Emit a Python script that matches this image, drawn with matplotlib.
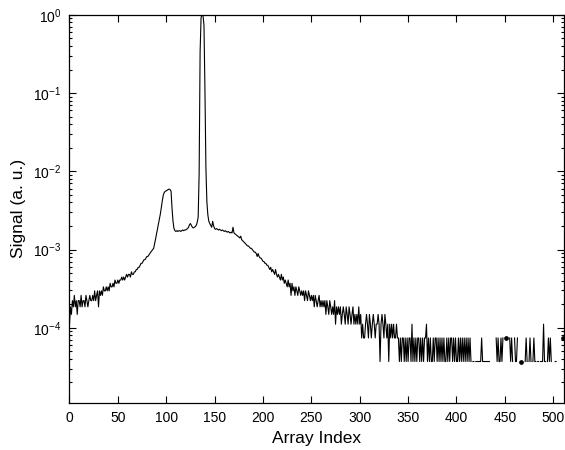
import numpy as np
import matplotlib
matplotlib.use("Agg")
import matplotlib.pyplot as plt
from matplotlib.ticker import FixedLocator, NullFormatter

# Detector counts per array element (1 count ~ 3.7e-5 after normalisation)
counts = [
    3, 5, 4, 6, 5, 7, 5, 6, 4, 6,
    6, 5, 7, 5, 6, 6, 5, 7, 6, 5,
    6, 7, 6, 6, 7, 6, 8, 6, 7, 8,
    5, 8, 7, 8, 7, 9, 8, 8, 9, 8,
    9, 8, 10, 9, 9, 10, 9, 11, 10, 10,
    11, 10, 11, 11, 12, 11, 12, 11, 12, 13,
    12, 13, 13, 12, 14, 13, 13, 14, 14, 15,
    15, 16, 16, 17, 18, 18, 19, 20, 20, 21,
    22, 22, 23, 24, 25, 26, 27, 28, 32, 37,
    43, 50, 58, 68, 78, 95, 115, 135, 145, 150,
    152, 155, 158, 160, 157, 150, 90, 62, 50, 47,
    46, 47, 46, 47, 47, 46, 47, 48, 47, 48,
    48, 49, 50, 52, 56, 58, 55, 52, 51, 52,
    53, 55, 60, 70, 250, 9000, 25000, 27000, 26500, 20000,
    3000, 300, 110, 75, 62, 58, 55, 52, 62, 54,
    50, 49, 50, 49, 48, 49, 48, 47, 48, 47,
    46, 47, 46, 45, 46, 45, 44, 45, 44, 52,
    44, 43, 42, 41, 40, 39, 38, 40, 36, 35,
    34, 33, 32, 31, 30, 30, 29, 28, 28, 27,
    26, 25, 25, 24, 22, 24, 22, 21, 21, 20,
    19, 19, 18, 18, 17, 17, 16, 15, 16, 14,
    15, 14, 13, 15, 13, 12, 13, 12, 11, 13,
    11, 12, 10, 11, 10, 9, 11, 9, 10, 7,
    10, 8, 9, 7, 9, 8, 7, 9, 8, 7,
    8, 7, 8, 6, 8, 7, 6, 8, 7, 6,
    7, 6, 7, 5, 7, 6, 5, 6, 7, 5,
    6, 5, 6, 5, 6, 4, 6, 5, 4, 6,
    5, 4, 5, 4, 6, 3, 5, 4, 5, 4,
    5, 3, 4, 5, 4, 3, 5, 4, 3, 5,
    4, 3, 4, 5, 3, 4, 3, 4, 3, 5,
    3, 4, 2, 3, 2, 2, 3, 4, 3, 2,
    4, 3, 2, 3, 4, 3, 2, 3, 3, 4,
    3, 1, 3, 4, 3, 2, 4, 3, 2, 3,
    1, 3, 2, 3, 2, 3, 2, 2, 3, 2,
    2, 1, 2, 1, 2, 2, 1, 2, 1, 2,
    1, 2, 2, 1, 3, 1, 2, 1, 2, 1,
    2, 2, 1, 2, 1, 2, 1, 2, 2, 3,
    1, 2, 1, 2, 1, 1, 2, 1, 2, 2,
    1, 2, 1, 2, 1, 2, 1, 2, 1, 1,
    2, 1, 2, 1, 2, 2, 1, 2, 1, 2,
    1, 1, 2, 1, 2, 1, 2, 1, 2, 1,
    2, 1, 2, 1, 2, 1, 0, 1, 1, 0,
    1, 1, 1, 1, 1, 1, 2, 1, 1, 1,
    1, 1, 1, 1, 1, 0, 0, 0, 0, 0,
    0, 2, 1, 2, 1, 1, 2, 1, 2, 0,
    0, 2, 0, 0, 0, 2, 1, 2, 1, 0,
    2, 1, 1, 2, 0, 0, 0, 1, 0, 0,
    0, 1, 2, 1, 0, 1, 2, 1, 0, 1,
    2, 1, 1, 0, 1, 1, 0, 1, 1, 1,
    3, 1, 1, 0, 1, 2, 1, 2, 1, 0,
    0, 0, 1, 1, 0, 0, 0, 0, 0, 0,
    2, 0,
]

ytick_vals = [1e-4, 1e-3, 1e-2, 1e-1, 1e0]
ytick_labels = [r"$\mathregular{10^{-4}}$", r"$\mathregular{10^{-3}}$",
                r"$\mathregular{10^{-2}}$", r"$\mathregular{10^{-1}}$",
                r"$\mathregular{10^{0}}$"]
xtick_vals = [0, 50, 100, 150, 200, 250, 300, 350, 400, 450, 500]


def main():
    plt.rcParams['font.family'] = ['Liberation Sans', 'DejaVu Sans']

    c = np.array(counts, dtype=float)
    signal = c / c.max()
    signal[c <= 0] = np.nan       # zero counts -> gaps on the log axis
    idx = np.arange(len(signal))

    # points with no neighbours would vanish from a line, show them as dots
    ok = np.isfinite(signal)
    prev_ok = np.r_[False, ok[:-1]]
    next_ok = np.r_[ok[1:], False]
    lone = ok & ~prev_ok & ~next_ok

    fig = plt.figure(figsize=(5.65, 4.5), dpi=100)
    ax = fig.add_axes([0.123, 0.105, 0.875, 0.862])
    ax.plot(idx, signal, color='black', lw=0.8)
    ax.plot(idx[lone], signal[lone], ls='none', marker='o', ms=2.4,
            color='black')

    ax.set_yscale('log')
    ax.set_xlim(0, 511)
    ax.set_ylim(1.1e-5, 1.0)

    ax.set_xticks(xtick_vals)
    ax.set_yticks(ytick_vals)
    ax.set_yticklabels(ytick_labels)
    minors = [m * 10.0 ** e for e in range(-5, 0) for m in range(2, 10)]
    ax.yaxis.set_minor_locator(FixedLocator(minors))
    ax.yaxis.set_minor_formatter(NullFormatter())

    ax.tick_params(which='both', direction='in', top=True, right=True,
                   labelsize=10, width=0.8)
    ax.tick_params(which='major', length=5, pad=6)
    ax.tick_params(which='minor', length=2.5)
    for sp in ax.spines.values():
        sp.set_linewidth(0.9)

    ax.set_xlabel("Array Index", fontsize=12.5, labelpad=4)
    ax.set_ylabel("Signal (a. u.)", fontsize=12.5, labelpad=5)

    fig.savefig("out.png", dpi=100)


if __name__ == '__main__':
    main()
